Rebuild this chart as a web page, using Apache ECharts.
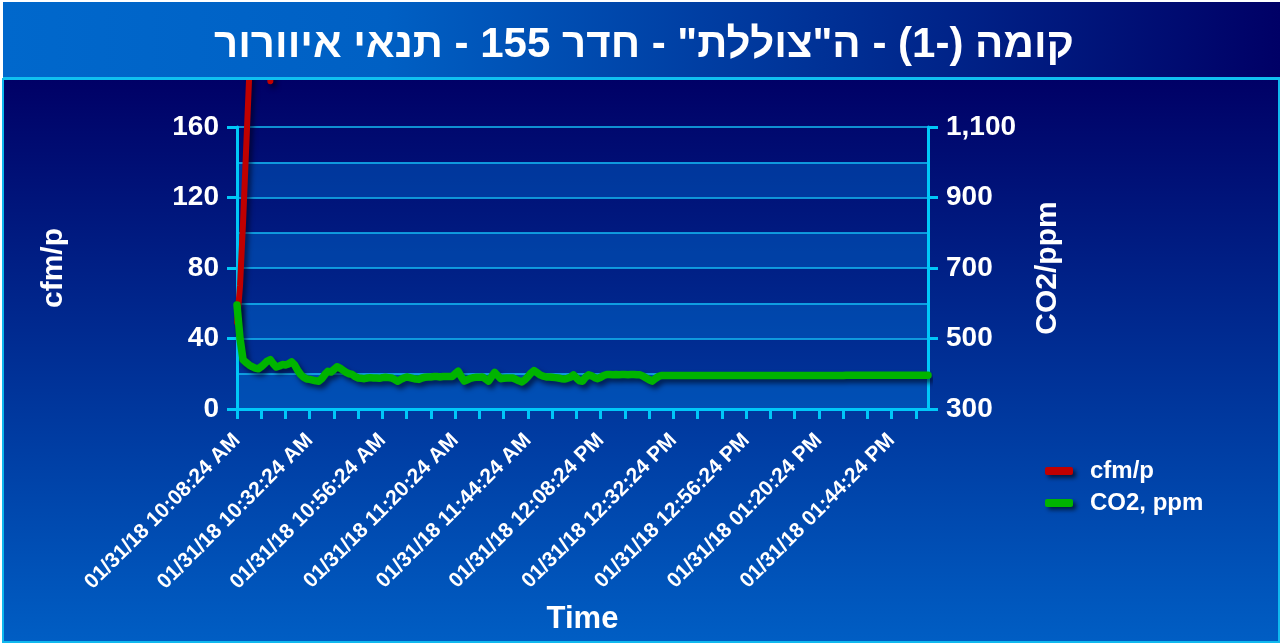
<!DOCTYPE html>
<html>
<head>
<meta charset="utf-8">
<script src="https://cdn.jsdelivr.net/npm/echarts@6/dist/echarts.min.js"></script>
<style>
html,body{margin:0;padding:0;background:#fff;}
#chart{width:1282px;height:644px;}
</style>
</head>
<body>
<div id="chart"></div>
<script>
// ---- data ----
const titleText = 'קומה (-1) - ה"צוללת" - חדר 155 - תנאי איוורור';
const datePrefix = '01/31/18';
const startHour = 10, startMinute = 8, startSecond = 24; // first sample 10:08:24 AM
const sampleCount = 229; // one sample per minute up to 01:56:24 PM

const cfmValues = [49, 70, 106, 147, 188, 240, 290, 320, 300, 270, 230, 186];

const co2Values = [
  595, 500, 440, 432, 425, 420, 416, 414, 420, 428,
  436, 440, 428, 419, 422, 426, 425, 428, 434, 425,
  410, 398, 390, 385, 384, 382, 380, 379, 386, 398,
  407, 405, 412, 420, 416, 410, 404, 400, 398, 392,
  388, 387, 386, 388, 389, 388, 388, 387, 389, 390,
  389, 388, 384, 379, 384, 388, 391, 389, 387, 385,
  384, 388, 390, 391, 391, 392, 392, 391, 392, 392,
  392, 392, 400, 407, 392, 379, 383, 387, 389, 390,
  390, 391, 385, 379, 392, 404, 395, 386, 387, 388,
  388, 388, 384, 380, 377, 383, 392, 402, 409, 403,
  397, 393, 391, 391, 390, 389, 388, 386, 385, 387,
  390, 397, 388, 380, 379, 390, 397, 394, 389, 386,
  390, 395, 398, 398, 397, 398, 397, 398, 398, 397,
  398, 398, 397, 397, 393, 388, 383, 379, 386, 392,
  395, 395, 395, 395, 395, 395, 395, 395, 395, 395,
  395, 395, 395, 395, 395, 395, 395, 395, 395, 395,
  395, 395, 395, 395, 395, 395, 395, 395, 395, 395,
  395, 395, 395, 395, 395, 395, 395, 395, 395, 395,
  395, 395, 395, 395, 395, 395, 395, 395, 395, 395,
  395, 395, 395, 395, 395, 395, 395, 395, 395, 395,
  395, 396, 396, 396, 396, 396, 396, 396, 396, 396,
  396, 396, 396, 396, 396, 396, 396, 396, 396, 396,
  396, 396, 396, 396, 396, 396, 396, 396, 396
];

const leftTicks = {min: 0, max: 160, interval: 40};
const bandStep = 20;
const rightTicks = {min: 300, max: 1100, interval: 200};

// category labels (timestamps, one per minute)
function pad(n){ return (n < 10 ? '0' : '') + n; }
const categories = [];
for (let i = 0; i < sampleCount; i++) {
  const total = startHour * 60 + startMinute + i;
  const h24 = Math.floor(total / 60), m = total % 60;
  const ampm = h24 >= 12 ? 'PM' : 'AM';
  let h12 = h24 % 12; if (h12 === 0) h12 = 12;
  categories.push(datePrefix + ' ' + pad(h12) + ':' + pad(m) + ':' + pad(startSecond) + ' ' + ampm);
}

const FONT = "'Liberation Sans', Arial, sans-serif";
const CYAN = '#00c8f8';

const chart = echarts.init(document.getElementById('chart'), null, {renderer: 'canvas'});
chart.setOption({
  animation: false,
  textStyle: {fontFamily: FONT},
  graphic: [
    {type: 'rect', z: -100, silent: true, shape: {x: 3, y: 79, width: 1276, height: 563},
     style: {fill: new echarts.graphic.LinearGradient(0, 0, 0, 1, [
       {offset: 0, color: '#000066'}, {offset: 1, color: '#005ec4'}]),
       stroke: '#10b8ee', lineWidth: 2}},
    {type: 'group', z: 100, children: [
      {type: 'rect', z: 100, shape: {x: 0, y: 0, width: 1282, height: 3}, style: {fill: '#ffffff'}},
      {type: 'rect', z: 100, shape: {x: 3, y: 2, width: 1277, height: 76},
       style: {fill: new echarts.graphic.LinearGradient(0, 0, 1, 0, [
         {offset: 0, color: '#0068cc'}, {offset: 0.3, color: '#0060c4'}, {offset: 1, color: '#000066'}])}},
      {type: 'rect', z: 101, shape: {x: 3, y: 77, width: 1277, height: 3}, style: {fill: '#10c0f0'}},
      {type: 'text', z: 102, x: 644, y: 45,
       style: {text: titleText, fill: '#ffffff', font: 'bold 42px ' + FONT,
               align: 'center', verticalAlign: 'middle'}}
    ]}
  ],
  grid: {left: 237, right: 354, top: 127, bottom: 235, containLabel: false},
  legend: {
    orient: 'vertical', left: 1040, top: 454, itemGap: 8,
    icon: 'roundRect', itemWidth: 28, itemHeight: 8,
    itemStyle: {shadowColor: 'rgba(0,0,0,0.6)', shadowBlur: 4, shadowOffsetX: 3, shadowOffsetY: 3},
    textStyle: {color: '#fff', fontSize: 24, fontWeight: 'bold', fontFamily: FONT, padding: [0, 0, 0, 12]},
    data: ['cfm/p', 'CO2, ppm']
  },
  xAxis: {
    type: 'category', data: categories, boundaryGap: false,
    name: 'Time', nameLocation: 'middle', nameGap: 195,
    nameTextStyle: {color: '#fff', fontSize: 31, fontWeight: 'bold', fontFamily: FONT},
    axisLine: {lineStyle: {color: CYAN, width: 3}},
    axisTick: {interval: 7, length: 10, lineStyle: {color: CYAN, width: 3}},
    axisLabel: {interval: 23, rotate: 45, margin: 28, color: '#fff', fontSize: 21, fontWeight: 'bold', fontFamily: FONT},
    splitLine: {show: false}
  },
  yAxis: [
    {type: 'value', position: 'left', min: leftTicks.min, max: leftTicks.max, interval: leftTicks.interval,
     name: 'cfm/p', nameLocation: 'middle', nameGap: 168, nameRotate: 90,
     nameTextStyle: {color: '#fff', fontSize: 30, fontWeight: 'bold', fontFamily: FONT},
     axisLine: {show: true, lineStyle: {color: CYAN, width: 3}},
     axisTick: {show: true, length: 10, lineStyle: {color: CYAN, width: 3}},
     axisLabel: {margin: 18, color: '#fff', fontSize: 28, fontWeight: 'bold', fontFamily: FONT},
     splitLine: {show: false}},
    {type: 'value', position: 'right', min: rightTicks.min, max: rightTicks.max, interval: rightTicks.interval,
     name: 'CO2/ppm', nameLocation: 'middle', nameGap: 105, nameRotate: 90,
     nameTextStyle: {color: '#fff', fontSize: 30, fontWeight: 'bold', fontFamily: FONT},
     axisLine: {show: true, lineStyle: {color: CYAN, width: 3}},
     axisTick: {show: true, length: 10, lineStyle: {color: CYAN, width: 3}},
     axisLabel: {margin: 18, color: '#fff', fontSize: 28, fontWeight: 'bold', fontFamily: FONT,
                 formatter: v => v.toLocaleString('en-US')},
     splitLine: {show: false}},
    {type: 'value', position: 'left', min: leftTicks.min, max: leftTicks.max, interval: bandStep,
     axisLine: {show: false}, axisTick: {show: false}, axisLabel: {show: false},
     splitLine: {show: true, lineStyle: {color: '#14bcf4', width: 1.5}},
     splitArea: {show: true, areaStyle: {color: ['rgba(0,120,220,0.38)', 'rgba(0,0,0,0)']}}}
  ],
  series: [
    {name: 'cfm/p', type: 'line', yAxisIndex: 0, data: cfmValues, clip: false,
     showSymbol: false, symbol: 'none', color: '#c00000', itemStyle: {color: '#c00000'},
     lineStyle: {color: '#c00000', width: 6, cap: 'round', join: 'round',
                 shadowColor: 'rgba(0,0,20,0.6)', shadowBlur: 5, shadowOffsetX: 3, shadowOffsetY: 4}},
    {name: 'CO2, ppm', type: 'line', yAxisIndex: 1, data: co2Values, clip: false,
     showSymbol: false, symbol: 'none', color: '#00b400', itemStyle: {color: '#00b400'},
     lineStyle: {color: '#00b400', width: 7.5, cap: 'round', join: 'round',
                 shadowColor: 'rgba(0,0,20,0.6)', shadowBlur: 5, shadowOffsetX: 3, shadowOffsetY: 4}}
  ]
});
</script>
</body>
</html>
